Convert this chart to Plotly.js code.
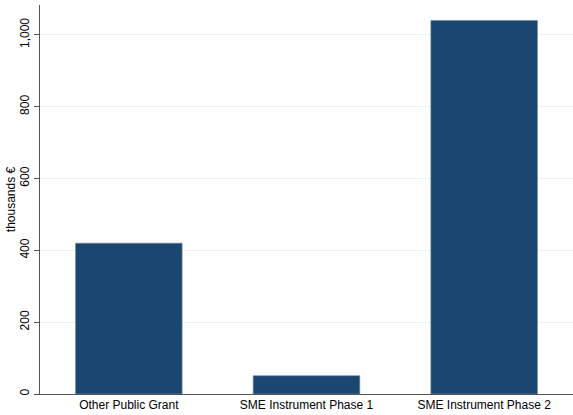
<!DOCTYPE html>
<html>
<head>
<meta charset="utf-8">
<script src="https://cdn.plot.ly/plotly-3.0.1.min.js"></script>
<style>html,body{margin:0;padding:0;background:#fff;}#chart{width:573px;height:415px;}</style>
</head>
<body>
<div id="chart"></div>
<script>
var categories = ["Other Public Grant", "SME Instrument Phase 1", "SME Instrument Phase 2"];
var values = [420, 51, 1040];
var yTickVals = [0, 200, 400, 600, 800, 1000];
var yTickText = ["0", "200", "400", "600", "800", "1,000"];

var trace = {
  type: "bar",
  x: categories,
  y: values,
  width: 0.6,
  marker: {color: "#1a476f", line: {color: "#6f8aa3", width: 0.6}},
  hoverinfo: "none"
};

var layout = {
  width: 573,
  height: 415,
  margin: {l: 40, r: 0, t: 5, b: 21},
  paper_bgcolor: "#ffffff",
  plot_bgcolor: "#ffffff",
  showlegend: false,
  font: {family: "Liberation Sans, Arial, sans-serif", size: 12, color: "#000"},
  xaxis: {
    range: [-0.5, 2.5],
    showline: true,
    linecolor: "#555555",
    linewidth: 1,
    ticks: "",
    showgrid: false,
    zeroline: false,
    tickfont: {size: 12, color: "#000"},
    fixedrange: true
  },
  yaxis: {
    range: [0, 1083],
    tickvals: yTickVals,
    ticktext: yTickText,
    tickangle: -90,
    ticks: "outside",
    ticklen: 5,
    tickcolor: "#555555",
    showline: true,
    linecolor: "#555555",
    linewidth: 1,
    showgrid: true,
    gridcolor: "#eaf2f3",
    gridwidth: 1,
    zeroline: false,
    tickfont: {size: 12, color: "#000"},
    title: {text: "thousands €", font: {size: 12, color: "#000"}, standoff: 0},
    fixedrange: true
  }
};

Plotly.newPlot("chart", [trace], layout, {displayModeBar: false, staticPlot: true});
</script>
</body>
</html>
